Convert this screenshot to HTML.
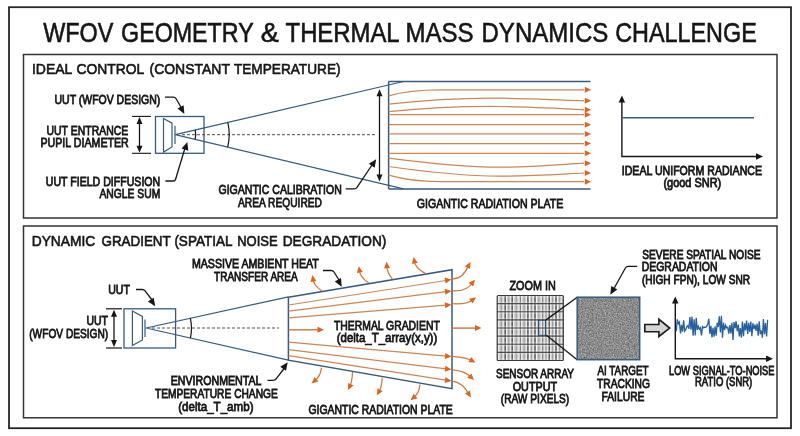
<!DOCTYPE html>
<html><head><meta charset="utf-8"><style>
html,body{margin:0;padding:0;background:#fff;width:800px;height:436px;overflow:hidden}
svg{display:block;will-change:transform}
text{font-family:"Liberation Sans",sans-serif}
</style></head><body>
<svg width="800" height="436" viewBox="0 0 800 436">
<rect width="800" height="436" fill="#fff"/>
<rect x="9" y="7.2" width="782" height="421" fill="none" stroke="#262626" stroke-width="1.8"/>
<rect x="23.5" y="54.5" width="753.5" height="163.5" fill="none" stroke="#333" stroke-width="1.5"/>
<rect x="23.5" y="226" width="753.5" height="191.8" fill="none" stroke="#333" stroke-width="1.5"/>
<text id="t0" x="43.26" y="41.6" font-size="26.74" textLength="70.18" lengthAdjust="spacingAndGlyphs" stroke="#161616" stroke-width="0.6" fill="#161616" >WFOV</text>
<text id="t1" x="121.10" y="41.6" font-size="26.74" textLength="132.60" lengthAdjust="spacingAndGlyphs" stroke="#161616" stroke-width="0.6" fill="#161616" >GEOMETRY</text>
<text id="t2" x="260.65" y="41.6" font-size="26.74" textLength="18.06" lengthAdjust="spacingAndGlyphs" stroke="#161616" stroke-width="0.6" fill="#161616" >&amp;</text>
<text id="t3" x="285.55" y="41.6" font-size="26.74" textLength="114.09" lengthAdjust="spacingAndGlyphs" stroke="#161616" stroke-width="0.6" fill="#161616" >THERMAL</text>
<text id="t4" x="405.51" y="41.6" font-size="26.74" textLength="68.01" lengthAdjust="spacingAndGlyphs" stroke="#161616" stroke-width="0.6" fill="#161616" >MASS</text>
<text id="t5" x="481.53" y="41.6" font-size="26.74" textLength="126.78" lengthAdjust="spacingAndGlyphs" stroke="#161616" stroke-width="0.6" fill="#161616" >DYNAMICS</text>
<text id="t6" x="615.16" y="41.6" font-size="26.74" textLength="141.60" lengthAdjust="spacingAndGlyphs" stroke="#161616" stroke-width="0.6" fill="#161616" >CHALLENGE</text>
<text id="t7" x="31.94" y="73.6" font-size="15.55" textLength="40.31" lengthAdjust="spacingAndGlyphs" stroke="#161616" stroke-width="0.65" fill="#161616" >IDEAL</text>
<text id="t8" x="76.49" y="73.6" font-size="15.55" textLength="67.76" lengthAdjust="spacingAndGlyphs" stroke="#161616" stroke-width="0.65" fill="#161616" >CONTROL</text>
<text id="t9" x="149.50" y="73.6" font-size="15.55" textLength="80.50" lengthAdjust="spacingAndGlyphs" stroke="#161616" stroke-width="0.65" fill="#161616" >(CONSTANT</text>
<text id="t10" x="233.95" y="73.6" font-size="15.55" textLength="106.60" lengthAdjust="spacingAndGlyphs" stroke="#161616" stroke-width="0.65" fill="#161616" >TEMPERATURE)</text>
<text id="t11" x="31.74" y="245.6" font-size="15.55" textLength="63.51" lengthAdjust="spacingAndGlyphs" stroke="#161616" stroke-width="0.65" fill="#161616" >DYNAMIC</text>
<text id="t12" x="101.53" y="245.6" font-size="15.55" textLength="69.12" lengthAdjust="spacingAndGlyphs" stroke="#161616" stroke-width="0.65" fill="#161616" >GRADIENT</text>
<text id="t13" x="174.38" y="245.6" font-size="15.55" textLength="58.03" lengthAdjust="spacingAndGlyphs" stroke="#161616" stroke-width="0.65" fill="#161616" >(SPATIAL</text>
<text id="t14" x="237.22" y="245.6" font-size="15.55" textLength="40.43" lengthAdjust="spacingAndGlyphs" stroke="#161616" stroke-width="0.65" fill="#161616" >NOISE</text>
<text id="t15" x="282.70" y="245.6" font-size="15.55" textLength="103.71" lengthAdjust="spacingAndGlyphs" stroke="#161616" stroke-width="0.65" fill="#161616" >DEGRADATION)</text>
<rect x="155.5" y="116.5" width="48.5" height="36.8" fill="none" stroke="#365b80" stroke-width="1.3"/>
<path d="M163.5,118.5 L172,123.2 L172,146.9 L163.5,152.1 Z" fill="none" stroke="#365b80" stroke-width="1.2" />
<path d="M175.0,125.8 L175.0,144.0" fill="none" stroke="#365b80" stroke-width="1.2" />
<path d="M403.5,81.5 L175.2,134.7 L403.5,188.8" fill="none" stroke="#365b80" stroke-width="1.2" />
<path d="M182.0,134.7 L376.0,134.7" fill="none" stroke="#3a3a3a" stroke-width="0.9" stroke-dasharray="3,2" />
<path d="M195.2,130.0 A20.5,20.5 0 0 1 195.1,139.4" fill="none" stroke="#161616" stroke-width="1.2" />
<path d="M227.8,122.4 A54,54 0 0 1 227.7,147.2" fill="none" stroke="#161616" stroke-width="1.2" />
<path d="M132.0,116.4 L151.0,116.4" fill="none" stroke="#161616" stroke-width="1.1" />
<path d="M132.0,153.3 L151.0,153.3" fill="none" stroke="#161616" stroke-width="1.1" />
<path d="M139.5,123.0 L139.5,147.0" fill="none" stroke="#161616" stroke-width="1.3" />
<path d="M139.5,117.0 L142.5,124.0 L136.5,124.0 Z" fill="#161616" stroke="none"/>
<path d="M139.5,152.7 L136.5,145.7 L142.5,145.7 Z" fill="#161616" stroke="none"/>
<text id="t16" x="54.50" y="103.5" font-size="12.50" textLength="105.76" lengthAdjust="spacingAndGlyphs" stroke="#161616" stroke-width="0.8" fill="#161616" >UUT (WFOV DESIGN)</text>
<path d="M164.9,97.1 L173.4,97.1 Q175.2,97.1 176.1,98.7 L181.5,108.0" fill="none" stroke="#161616" stroke-width="1.3" />
<path d="M184.4,114.0 L177.5,108.6 L183.6,105.3 Z" fill="#161616" stroke="none"/>
<text id="t17" x="46.50" y="135.1" font-size="13.08" textLength="81.76" lengthAdjust="spacingAndGlyphs" stroke="#161616" stroke-width="0.8" fill="#161616" >UUT ENTRANCE</text>
<text id="t18" x="40.50" y="147.0" font-size="13.08" textLength="88.26" lengthAdjust="spacingAndGlyphs" stroke="#161616" stroke-width="0.8" fill="#161616" >PUPIL DIAMETER</text>
<text id="t19" x="45.74" y="186.0" font-size="12.79" textLength="114.52" lengthAdjust="spacingAndGlyphs" stroke="#161616" stroke-width="0.8" fill="#161616" >UUT FIELD DIFFUSION</text>
<text id="t20" x="99.49" y="197.8" font-size="12.79" textLength="60.76" lengthAdjust="spacingAndGlyphs" stroke="#161616" stroke-width="0.8" fill="#161616" >ANGLE SUM</text>
<path d="M165.4,181.0 L173.3,181.0 Q175.1,181.0 175.6,179.3 L185.0,148.0" fill="none" stroke="#161616" stroke-width="1.3" />
<path d="M187.3,142.0 L188.3,150.7 L181.6,148.6 Z" fill="#161616" stroke="none"/>
<path d="M388.6,81.5 L590.5,81.5 M388.6,81.5 L388.6,189 M388.6,189 L590.5,189" fill="none" stroke="#365b80" stroke-width="1.5" />
<path d="M379.5,95.0 L379.5,176.0" fill="none" stroke="#161616" stroke-width="1.3" />
<path d="M379.5,89.2 L382.5,96.2 L376.5,96.2 Z" fill="#161616" stroke="none"/>
<path d="M379.5,181.5 L376.5,174.5 L382.5,174.5 Z" fill="#161616" stroke="none"/>
<text id="t21" x="218.50" y="193.8" font-size="12.79" textLength="123.26" lengthAdjust="spacingAndGlyphs" stroke="#161616" stroke-width="0.8" fill="#161616" >GIGANTIC CALIBRATION</text>
<text id="t22" x="237.99" y="207.0" font-size="12.79" textLength="84.02" lengthAdjust="spacingAndGlyphs" stroke="#161616" stroke-width="0.8" fill="#161616" >AREA REQUIRED</text>
<path d="M345.7,188.8 L354.2,188.8 Q356.0,188.8 357.0,187.3 L372.0,165.0" fill="none" stroke="#161616" stroke-width="1.3" />
<path d="M376.2,159.2 L374.6,167.8 L368.8,163.8 Z" fill="#161616" stroke="none"/>
<text id="t23" x="416.75" y="207.5" font-size="12.79" textLength="146.50" lengthAdjust="spacingAndGlyphs" stroke="#161616" stroke-width="0.8" fill="#161616" >GIGANTIC RADIATION PLATE</text>
<path d="M388.6,95.8 C405,91 420,89.8 440,89.8 L584,89.8" fill="none" stroke="#cc8755" stroke-width="1.25" />
<path d="M388.6,104.2 C430,99.5 470,97.9 500,98.2 C530,98.5 560,99.8 584,100.8" fill="none" stroke="#cc8755" stroke-width="1.25" />
<path d="M388.6,111.6 C430,107.5 470,106.2 500,106.5 C530,106.8 560,108.6 584,109.8" fill="none" stroke="#cc8755" stroke-width="1.25" />
<path d="M388.6,114.7 L584,114.7" fill="none" stroke="#cc8755" stroke-width="1.25" />
<path d="M388.6,124.7 L584,124.7" fill="none" stroke="#cc8755" stroke-width="1.25" />
<path d="M388.6,133.9 L584,133.9" fill="none" stroke="#cc8755" stroke-width="1.25" />
<path d="M388.6,143.6 L584,143.6" fill="none" stroke="#cc8755" stroke-width="1.25" />
<path d="M388.6,153.3 L584,153.3" fill="none" stroke="#cc8755" stroke-width="1.25" />
<path d="M388.6,158.1 C430,163.5 470,167 500,167.2 C530,167.4 560,164.6 584,163.2" fill="none" stroke="#cc8755" stroke-width="1.25" />
<path d="M388.6,166.5 C430,172.5 470,176 500,176.2 C530,176.4 560,174.2 584,173" fill="none" stroke="#cc8755" stroke-width="1.25" />
<path d="M388.6,175.2 C405,180 420,181.7 440,181.7 L584,181.7" fill="none" stroke="#cc8755" stroke-width="1.25" />
<path d="M591.0,89.8 L584.8,92.8 L584.8,86.8 Z" fill="#e0641c" stroke="none"/>
<path d="M591.0,100.8 L584.8,103.8 L584.8,97.8 Z" fill="#e0641c" stroke="none"/>
<path d="M591.0,109.8 L584.8,112.8 L584.8,106.8 Z" fill="#e0641c" stroke="none"/>
<path d="M591.0,114.7 L584.8,117.7 L584.8,111.7 Z" fill="#e0641c" stroke="none"/>
<path d="M591.0,124.7 L584.8,127.7 L584.8,121.7 Z" fill="#e0641c" stroke="none"/>
<path d="M591.0,133.9 L584.8,136.9 L584.8,130.9 Z" fill="#e0641c" stroke="none"/>
<path d="M591.0,143.6 L584.8,146.6 L584.8,140.6 Z" fill="#e0641c" stroke="none"/>
<path d="M591.0,153.3 L584.8,156.3 L584.8,150.3 Z" fill="#e0641c" stroke="none"/>
<path d="M591.0,163.2 L584.8,166.2 L584.8,160.2 Z" fill="#e0641c" stroke="none"/>
<path d="M591.0,173.0 L584.8,176.0 L584.8,170.0 Z" fill="#e0641c" stroke="none"/>
<path d="M591.0,181.7 L584.8,184.7 L584.8,178.7 Z" fill="#e0641c" stroke="none"/>
<path d="M621.9,101.0 L621.9,156.5 L756.0,156.5" fill="none" stroke="#161616" stroke-width="1.4" />
<path d="M621.9,95.5 L625.1,102.5 L618.6,102.5 Z" fill="#161616" stroke="none"/>
<path d="M763.0,156.5 L756.0,159.8 L756.0,153.2 Z" fill="#161616" stroke="none"/>
<path d="M622.5,117.8 L754.0,117.8" fill="none" stroke="#365b80" stroke-width="1.6" />
<text id="t24" x="621.74" y="174.6" font-size="12.50" textLength="140.26" lengthAdjust="spacingAndGlyphs" stroke="#161616" stroke-width="0.8" fill="#161616" >IDEAL UNIFORM RADIANCE</text>
<text id="t25" x="663.46" y="186.8" font-size="12.79" textLength="57.81" lengthAdjust="spacingAndGlyphs" stroke="#161616" stroke-width="0.8" fill="#161616" >(good SNR)</text>
<text id="t26" x="191.99" y="268.0" font-size="12.21" textLength="126.76" lengthAdjust="spacingAndGlyphs" stroke="#161616" stroke-width="0.8" fill="#161616" >MASSIVE AMBIENT HEAT</text>
<text id="t27" x="214.00" y="280.5" font-size="12.21" textLength="83.76" lengthAdjust="spacingAndGlyphs" stroke="#161616" stroke-width="0.8" fill="#161616" >TRANSFER AREA</text>
<path d="M323.0,270.5 L331.2,270.5 Q333.0,270.5 334.0,272.0 L339.0,280.0" fill="none" stroke="#161616" stroke-width="1.3" />
<path d="M341.7,286.8 L334.8,281.4 L341.0,278.1 Z" fill="#161616" stroke="none"/>
<text id="t28" x="108.22" y="294.0" font-size="12.50" textLength="21.78" lengthAdjust="spacingAndGlyphs" stroke="#161616" stroke-width="0.8" fill="#161616" >UUT</text>
<path d="M136.0,289.5 L142.2,289.5 Q144.0,289.5 145.1,290.9 L152.0,300.0" fill="none" stroke="#161616" stroke-width="1.3" />
<path d="M155.2,306.3 L147.9,301.6 L153.7,297.7 Z" fill="#161616" stroke="none"/>
<text id="t29" x="86.49" y="325.2" font-size="12.50" textLength="21.51" lengthAdjust="spacingAndGlyphs" stroke="#161616" stroke-width="0.8" fill="#161616" >UUT</text>
<text id="t30" x="29.24" y="338.0" font-size="12.50" textLength="79.01" lengthAdjust="spacingAndGlyphs" stroke="#161616" stroke-width="0.8" fill="#161616" >(WFOV DESIGN)</text>
<path d="M106.0,308.8 L122.0,308.8" fill="none" stroke="#161616" stroke-width="1.2" />
<path d="M106.0,348.0 L122.0,348.0" fill="none" stroke="#161616" stroke-width="1.2" />
<path d="M114.0,315.0 L114.0,342.0" fill="none" stroke="#161616" stroke-width="1.3" />
<path d="M114.0,309.8 L117.0,316.8 L111.0,316.8 Z" fill="#161616" stroke="none"/>
<path d="M114.0,347.0 L111.0,340.0 L117.0,340.0 Z" fill="#161616" stroke="none"/>
<rect x="124" y="308.8" width="51.6" height="39.2" fill="none" stroke="#365b80" stroke-width="1.3"/>
<path d="M132.4,311 L142.4,316.4 L142.4,340 L132.4,345.6 Z" fill="none" stroke="#365b80" stroke-width="1.2" />
<path d="M145.0,319.6 L145.0,337.0" fill="none" stroke="#365b80" stroke-width="1.2" />
<path d="M288.4,296.8 L146.0,328.0 L288.4,360.2" fill="none" stroke="#365b80" stroke-width="1.2" />
<path d="M152.0,328.0 L279.0,328.0" fill="none" stroke="#3a3a3a" stroke-width="0.9" stroke-dasharray="3,2" />
<path d="M190.4,318.3 A45.5,45.5 0 0 1 190.4,338.0" fill="none" stroke="#161616" stroke-width="1.2" />
<path d="M288.4,297.2 L452,269.7 L452,388.7 L288.4,360.2 Z" fill="none" stroke="#365b80" stroke-width="1.5" />
<path d="M288.6,305.0 L446.0,280.5" fill="none" stroke="#cc8755" stroke-width="1.2" />
<path d="M451.5,279.6 L445.5,283.6 L444.6,277.6 Z" fill="#e0641c" stroke="none"/>
<path d="M288.6,311.1 L446.0,291.6" fill="none" stroke="#cc8755" stroke-width="1.2" />
<path d="M451.5,290.9 L445.4,294.7 L444.7,288.7 Z" fill="#e0641c" stroke="none"/>
<path d="M288.6,317.9 L446.0,305.2" fill="none" stroke="#cc8755" stroke-width="1.2" />
<path d="M451.5,304.7 L445.3,308.2 L444.8,302.2 Z" fill="#e0641c" stroke="none"/>
<path d="M288.6,342.2 L446.0,356.1" fill="none" stroke="#cc8755" stroke-width="1.2" />
<path d="M451.5,356.6 L444.8,359.0 L445.3,353.0 Z" fill="#e0641c" stroke="none"/>
<path d="M288.6,349.6 L446.0,368.9" fill="none" stroke="#cc8755" stroke-width="1.2" />
<path d="M451.5,369.6 L444.7,371.8 L445.4,365.8 Z" fill="#e0641c" stroke="none"/>
<path d="M288.6,355.7 L446.0,380.2" fill="none" stroke="#cc8755" stroke-width="1.2" />
<path d="M451.5,381.1 L444.6,383.1 L445.5,377.1 Z" fill="#e0641c" stroke="none"/>
<path d="M288.6,329.8 L318.0,329.8" fill="none" stroke="#d2773a" stroke-width="1.4" />
<path d="M324.0,329.8 L317.5,332.8 L317.5,326.8 Z" fill="#e0641c" stroke="none"/>
<path d="M452.0,328.1 L475.0,328.1" fill="none" stroke="#d2773a" stroke-width="1.4" />
<path d="M481.5,328.1 L475.0,331.1 L475.0,325.1 Z" fill="#e0641c" stroke="none"/>
<text id="t31" x="334.00" y="329.8" font-size="13.08" textLength="105.75" lengthAdjust="spacingAndGlyphs" stroke="#161616" stroke-width="0.8" fill="#161616" >THERMAL GRADIENT</text>
<text id="t32" x="336.74" y="342.4" font-size="13.52" textLength="100.51" lengthAdjust="spacingAndGlyphs" stroke="#161616" stroke-width="0.8" fill="#161616" >(delta_T_array(x,y))</text>
<path d="M322.0,291.0 Q313.1,285.2 312.9,278.0" fill="none" stroke="#d2773a" stroke-width="1.25" />
<path d="M312.4,275.0 L316.4,280.9 L310.5,281.9 Z" fill="#e0641c" stroke="none"/>
<path d="M368.9,283.1 Q359.5,277.0 359.3,269.2" fill="none" stroke="#d2773a" stroke-width="1.25" />
<path d="M358.8,266.2 L362.8,272.1 L356.9,273.1 Z" fill="#e0641c" stroke="none"/>
<path d="M392.5,279.1 Q386.9,272.9 386.8,264.8" fill="none" stroke="#d2773a" stroke-width="1.25" />
<path d="M386.5,261.8 L390.1,268.0 L384.1,268.6 Z" fill="#e0641c" stroke="none"/>
<path d="M425.6,273.6 Q414.4,267.6 414.2,259.9" fill="none" stroke="#d2773a" stroke-width="1.25" />
<path d="M413.6,257.0 L417.8,262.8 L411.9,264.0 Z" fill="#e0641c" stroke="none"/>
<path d="M321.5,367.6 Q320.5,377.1 313.8,381.5" fill="none" stroke="#d2773a" stroke-width="1.25" />
<path d="M311.5,383.4 L314.6,376.9 L318.4,381.6 Z" fill="#e0641c" stroke="none"/>
<path d="M352.5,372.1 Q352.1,382.9 349.3,387.4" fill="none" stroke="#d2773a" stroke-width="1.25" />
<path d="M348.0,390.1 L348.1,382.9 L353.5,385.5 Z" fill="#e0641c" stroke="none"/>
<path d="M382.2,377.8 Q381.7,388.3 378.3,392.7" fill="none" stroke="#d2773a" stroke-width="1.25" />
<path d="M376.8,395.3 L377.5,388.2 L382.7,391.2 Z" fill="#e0641c" stroke="none"/>
<path d="M420.0,384.5 Q419.1,394.0 412.8,398.3" fill="none" stroke="#d2773a" stroke-width="1.25" />
<path d="M410.6,400.3 L413.5,393.7 L417.5,398.2 Z" fill="#e0641c" stroke="none"/>
<path d="M452.0,278.9 Q462.5,279.9 469.1,264.6" fill="none" stroke="#d2773a" stroke-width="1.25" />
<path d="M470.5,262.0 L470.1,269.1 L464.8,266.3 Z" fill="#e0641c" stroke="none"/>
<path d="M452.0,290.9 Q467.0,291.9 473.1,282.0" fill="none" stroke="#d2773a" stroke-width="1.25" />
<path d="M475.0,279.7 L473.2,286.6 L468.5,282.8 Z" fill="#e0641c" stroke="none"/>
<path d="M452.0,303.7 Q468.1,304.7 473.7,299.1" fill="none" stroke="#d2773a" stroke-width="1.25" />
<path d="M476.1,297.3 L472.6,303.5 L469.1,298.7 Z" fill="#e0641c" stroke="none"/>
<path d="M452.0,356.4 Q467.5,357.4 472.9,361.2" fill="none" stroke="#d2773a" stroke-width="1.25" />
<path d="M475.5,362.6 L468.4,362.2 L471.2,356.9 Z" fill="#e0641c" stroke="none"/>
<path d="M452.0,369.8 Q466.0,370.8 471.8,378.0" fill="none" stroke="#d2773a" stroke-width="1.25" />
<path d="M474.0,380.1 L467.2,377.8 L471.4,373.4 Z" fill="#e0641c" stroke="none"/>
<path d="M452.0,381.1 Q462.9,382.1 469.3,395.0" fill="none" stroke="#d2773a" stroke-width="1.25" />
<path d="M470.9,397.6 L465.0,393.6 L470.1,390.5 Z" fill="#e0641c" stroke="none"/>
<text id="t33" x="170.74" y="384.8" font-size="12.50" textLength="90.78" lengthAdjust="spacingAndGlyphs" stroke="#161616" stroke-width="0.8" fill="#161616" >ENVIRONMENTAL</text>
<text id="t34" x="154.99" y="397.9" font-size="12.50" textLength="122.78" lengthAdjust="spacingAndGlyphs" stroke="#161616" stroke-width="0.8" fill="#161616" >TEMPERATURE CHANGE</text>
<text id="t35" x="178.24" y="411.4" font-size="13.37" textLength="75.26" lengthAdjust="spacingAndGlyphs" stroke="#161616" stroke-width="0.8" fill="#161616" >(delta_T_amb)</text>
<path d="M267.5,380.3 L273.2,380.3 Q275.0,380.3 276.1,378.9 L284.5,368.0" fill="none" stroke="#161616" stroke-width="1.3" />
<path d="M287.7,362.2 L286.0,370.8 L280.2,366.7 Z" fill="#161616" stroke="none"/>
<text id="t36" x="308.49" y="413.8" font-size="12.50" textLength="144.26" lengthAdjust="spacingAndGlyphs" stroke="#161616" stroke-width="0.8" fill="#161616" >GIGANTIC RADIATION PLATE</text>
<defs><linearGradient id="stripe" x1="0" x2="1" y1="0" y2="0"><stop offset="0.000" stop-color="#555"/><stop offset="0.025" stop-color="#eee"/><stop offset="0.050" stop-color="#888"/><stop offset="0.075" stop-color="#ddd"/><stop offset="0.100" stop-color="#666"/><stop offset="0.125" stop-color="#bbb"/><stop offset="0.150" stop-color="#444"/><stop offset="0.175" stop-color="#eee"/><stop offset="0.200" stop-color="#999"/><stop offset="0.225" stop-color="#ccc"/><stop offset="0.250" stop-color="#555"/><stop offset="0.275" stop-color="#eee"/><stop offset="0.300" stop-color="#888"/><stop offset="0.325" stop-color="#ddd"/><stop offset="0.350" stop-color="#666"/><stop offset="0.375" stop-color="#bbb"/><stop offset="0.400" stop-color="#444"/><stop offset="0.425" stop-color="#eee"/><stop offset="0.450" stop-color="#999"/><stop offset="0.475" stop-color="#ccc"/><stop offset="0.500" stop-color="#555"/><stop offset="0.525" stop-color="#eee"/><stop offset="0.550" stop-color="#888"/><stop offset="0.575" stop-color="#ddd"/><stop offset="0.600" stop-color="#666"/><stop offset="0.625" stop-color="#bbb"/><stop offset="0.650" stop-color="#444"/><stop offset="0.675" stop-color="#eee"/><stop offset="0.700" stop-color="#999"/><stop offset="0.725" stop-color="#ccc"/><stop offset="0.750" stop-color="#555"/><stop offset="0.775" stop-color="#eee"/><stop offset="0.800" stop-color="#888"/><stop offset="0.825" stop-color="#ddd"/><stop offset="0.850" stop-color="#666"/><stop offset="0.875" stop-color="#bbb"/><stop offset="0.900" stop-color="#444"/><stop offset="0.925" stop-color="#eee"/><stop offset="0.950" stop-color="#999"/><stop offset="0.975" stop-color="#ccc"/><stop offset="1.000" stop-color="#555"/></linearGradient><filter id="noise" x="0" y="0" width="100%" height="100%" color-interpolation-filters="sRGB"><feTurbulence type="fractalNoise" baseFrequency="0.75" numOctaves="2" seed="3"/><feColorMatrix type="matrix" values="0.55 0 0 0 0.27  0.55 0 0 0 0.27  0.55 0 0 0 0.27  0 0 0 0 1"/></filter></defs>
<rect x="497.2" y="295.5" width="66.1" height="65.0" fill="#b4b4b4"/>
<rect x="498.10" y="295.5" width="1.3" height="65.0" fill="#f2f2f2"/>
<rect x="499.40" y="295.5" width="3.70" height="65.0" fill="#d0d0d0"/>
<rect x="500.65" y="295.5" width="1.2" height="65.0" fill="#9a9a9a"/>
<rect x="503.10" y="295.5" width="1.3" height="65.0" fill="#ececec"/>
<rect x="506.00" y="295.5" width="1.3" height="65.0" fill="#f2f2f2"/>
<rect x="507.30" y="295.5" width="2.80" height="65.0" fill="#d0d0d0"/>
<rect x="508.10" y="295.5" width="1.2" height="65.0" fill="#9a9a9a"/>
<rect x="510.10" y="295.5" width="1.3" height="65.0" fill="#ececec"/>
<rect x="513.00" y="295.5" width="1.3" height="65.0" fill="#f2f2f2"/>
<rect x="514.30" y="295.5" width="4.00" height="65.0" fill="#d0d0d0"/>
<rect x="515.70" y="295.5" width="1.2" height="65.0" fill="#9a9a9a"/>
<rect x="518.30" y="295.5" width="1.3" height="65.0" fill="#ececec"/>
<rect x="521.20" y="295.5" width="1.3" height="65.0" fill="#f2f2f2"/>
<rect x="522.50" y="295.5" width="3.30" height="65.0" fill="#d0d0d0"/>
<rect x="523.55" y="295.5" width="1.2" height="65.0" fill="#9a9a9a"/>
<rect x="525.80" y="295.5" width="1.3" height="65.0" fill="#ececec"/>
<rect x="528.70" y="295.5" width="1.3" height="65.0" fill="#f2f2f2"/>
<rect x="530.00" y="295.5" width="2.90" height="65.0" fill="#d0d0d0"/>
<rect x="530.85" y="295.5" width="1.2" height="65.0" fill="#9a9a9a"/>
<rect x="532.90" y="295.5" width="1.3" height="65.0" fill="#ececec"/>
<rect x="535.80" y="295.5" width="1.3" height="65.0" fill="#f2f2f2"/>
<rect x="537.10" y="295.5" width="3.50" height="65.0" fill="#d0d0d0"/>
<rect x="538.25" y="295.5" width="1.2" height="65.0" fill="#9a9a9a"/>
<rect x="540.60" y="295.5" width="1.3" height="65.0" fill="#ececec"/>
<rect x="543.50" y="295.5" width="1.3" height="65.0" fill="#f2f2f2"/>
<rect x="544.80" y="295.5" width="2.40" height="65.0" fill="#d0d0d0"/>
<rect x="545.40" y="295.5" width="1.2" height="65.0" fill="#9a9a9a"/>
<rect x="547.20" y="295.5" width="1.3" height="65.0" fill="#ececec"/>
<rect x="550.10" y="295.5" width="1.3" height="65.0" fill="#f2f2f2"/>
<rect x="551.40" y="295.5" width="2.50" height="65.0" fill="#d0d0d0"/>
<rect x="552.05" y="295.5" width="1.2" height="65.0" fill="#9a9a9a"/>
<rect x="553.90" y="295.5" width="1.3" height="65.0" fill="#ececec"/>
<rect x="556.80" y="295.5" width="1.3" height="65.0" fill="#f2f2f2"/>
<rect x="558.10" y="295.5" width="3.00" height="65.0" fill="#d0d0d0"/>
<rect x="559.00" y="295.5" width="1.2" height="65.0" fill="#9a9a9a"/>
<rect x="561.10" y="295.5" width="1.3" height="65.0" fill="#ececec"/>
<path d="M505.2,295.5 L505.2,360.5" fill="none" stroke="#4a4a4a" stroke-width="1.2" />
<path d="M512.2,295.5 L512.2,360.5" fill="none" stroke="#4a4a4a" stroke-width="1.2" />
<path d="M520.4,295.5 L520.4,360.5" fill="none" stroke="#7a7a7a" stroke-width="1.0" />
<path d="M527.9,295.5 L527.9,360.5" fill="none" stroke="#4a4a4a" stroke-width="1.2" />
<path d="M535.0,295.5 L535.0,360.5" fill="none" stroke="#4a4a4a" stroke-width="1.2" />
<path d="M542.7,295.5 L542.7,360.5" fill="none" stroke="#7a7a7a" stroke-width="1.0" />
<path d="M549.3,295.5 L549.3,360.5" fill="none" stroke="#4a4a4a" stroke-width="1.2" />
<path d="M556.0,295.5 L556.0,360.5" fill="none" stroke="#4a4a4a" stroke-width="1.2" />
<rect x="497.2" y="296.40" width="66.1" height="1.1" fill="#fff" opacity="0.35"/>
<rect x="497.2" y="301.62" width="66.1" height="1.1" fill="#fff" opacity="0.3"/>
<rect x="497.2" y="304.52" width="66.1" height="1.1" fill="#fff" opacity="0.35"/>
<rect x="497.2" y="309.75" width="66.1" height="1.1" fill="#fff" opacity="0.3"/>
<rect x="497.2" y="312.65" width="66.1" height="1.1" fill="#fff" opacity="0.35"/>
<rect x="497.2" y="317.88" width="66.1" height="1.1" fill="#fff" opacity="0.3"/>
<rect x="497.2" y="320.77" width="66.1" height="1.1" fill="#fff" opacity="0.35"/>
<rect x="497.2" y="326.00" width="66.1" height="1.1" fill="#fff" opacity="0.3"/>
<rect x="497.2" y="328.90" width="66.1" height="1.1" fill="#fff" opacity="0.35"/>
<rect x="497.2" y="334.12" width="66.1" height="1.1" fill="#fff" opacity="0.3"/>
<rect x="497.2" y="337.02" width="66.1" height="1.1" fill="#fff" opacity="0.35"/>
<rect x="497.2" y="342.25" width="66.1" height="1.1" fill="#fff" opacity="0.3"/>
<rect x="497.2" y="345.15" width="66.1" height="1.1" fill="#fff" opacity="0.35"/>
<rect x="497.2" y="350.38" width="66.1" height="1.1" fill="#fff" opacity="0.3"/>
<rect x="497.2" y="353.27" width="66.1" height="1.1" fill="#fff" opacity="0.35"/>
<rect x="497.2" y="358.50" width="66.1" height="1.1" fill="#fff" opacity="0.3"/>
<path d="M497.2,303.6 L563.3,303.6" fill="none" stroke="#4e4e4e" stroke-width="1.1" />
<path d="M497.2,311.8 L563.3,311.8" fill="none" stroke="#4e4e4e" stroke-width="1.1" />
<path d="M497.2,319.9 L563.3,319.9" fill="none" stroke="#4e4e4e" stroke-width="1.1" />
<path d="M497.2,328.0 L563.3,328.0" fill="none" stroke="#4e4e4e" stroke-width="1.1" />
<path d="M497.2,336.1 L563.3,336.1" fill="none" stroke="#4e4e4e" stroke-width="1.1" />
<path d="M497.2,344.2 L563.3,344.2" fill="none" stroke="#4e4e4e" stroke-width="1.1" />
<path d="M497.2,352.4 L563.3,352.4" fill="none" stroke="#4e4e4e" stroke-width="1.1" />
<rect x="497.2" y="295.5" width="66.1" height="65.0" fill="none" stroke="#3a3a3a" stroke-width="1.2" rx="1"/>
<rect x="538.5" y="320.2" width="7" height="15.1" fill="none" stroke="#2c4f70" stroke-width="1.1"/>
<path d="M546.1,319.9 L577.2,297.2" fill="none" stroke="#161616" stroke-width="1.3" />
<path d="M546.1,334.9 L577.2,359.7" fill="none" stroke="#161616" stroke-width="1.3" />
<text id="t37" x="509.48" y="289.5" font-size="13.08" textLength="46.30" lengthAdjust="spacingAndGlyphs" stroke="#161616" stroke-width="0.8" fill="#161616" >ZOOM IN</text>
<text id="t38" x="496.00" y="377.6" font-size="12.50" textLength="78.01" lengthAdjust="spacingAndGlyphs" stroke="#161616" stroke-width="0.8" fill="#161616" >SENSOR ARRAY</text>
<text id="t39" x="512.75" y="391.0" font-size="12.50" textLength="44.25" lengthAdjust="spacingAndGlyphs" stroke="#161616" stroke-width="0.8" fill="#161616" >OUTPUT</text>
<text id="t40" x="500.75" y="403.4" font-size="12.79" textLength="68.50" lengthAdjust="spacingAndGlyphs" stroke="#161616" stroke-width="0.8" fill="#161616" >(RAW PIXELS)</text>
<rect x="577.2" y="297.2" width="62.5" height="62.5" fill="#8a8a8a"/>
<rect x="577.2" y="297.2" width="62.5" height="62.5" filter="url(#noise)"/>
<rect x="577.2" y="297.2" width="62.5" height="62.5" fill="none" stroke="#365b80" stroke-width="1.5"/>
<text id="t41" x="597.47" y="375.0" font-size="12.50" textLength="51.05" lengthAdjust="spacingAndGlyphs" stroke="#161616" stroke-width="0.8" fill="#161616" >AI TARGET</text>
<text id="t42" x="597.00" y="387.5" font-size="12.50" textLength="53.01" lengthAdjust="spacingAndGlyphs" stroke="#161616" stroke-width="0.8" fill="#161616" >TRACKING</text>
<text id="t43" x="601.49" y="400.8" font-size="12.50" textLength="43.03" lengthAdjust="spacingAndGlyphs" stroke="#161616" stroke-width="0.8" fill="#161616" >FAILURE</text>
<text id="t44" x="642.24" y="259.0" font-size="12.21" textLength="118.27" lengthAdjust="spacingAndGlyphs" stroke="#161616" stroke-width="0.8" fill="#161616" >SEVERE SPATIAL NOISE</text>
<text id="t45" x="641.74" y="271.4" font-size="12.21" textLength="75.77" lengthAdjust="spacingAndGlyphs" stroke="#161616" stroke-width="0.8" fill="#161616" >DEGRADATION</text>
<text id="t46" x="642.00" y="284.4" font-size="12.21" textLength="108.01" lengthAdjust="spacingAndGlyphs" stroke="#161616" stroke-width="0.8" fill="#161616" >(HIGH FPN), LOW SNR</text>
<path d="M637.2,266.4 L628.1,266.4 Q626.3,266.4 625.4,268.0 L614.0,288.5" fill="none" stroke="#161616" stroke-width="1.3" />
<path d="M610.3,294.8 L611.2,286.1 L617.3,289.5 Z" fill="#161616" stroke="none"/>
<path d="M644.8,324.5 L658.9,324.5 L658.9,319.3 L669.7,328.1 L658.9,336.5 L658.9,331.7 L644.8,331.7 Z" fill="#d4d4d4" stroke="#1a1a1a" stroke-width="1.6" />
<path d="M675.3,302.0 L675.3,358.7 L766.0,358.7" fill="none" stroke="#161616" stroke-width="1.4" />
<path d="M675.3,296.5 L678.5,303.5 L672.0,303.5 Z" fill="#161616" stroke="none"/>
<path d="M773.0,358.7 L766.0,361.9 L766.0,355.4 Z" fill="#161616" stroke="none"/>
<path d="M676.3,331.3 L677.3,319.4 L678.4,323.7 L679.4,322.2 L680.5,333.5 L681.5,324.9 L682.6,331.6 L683.6,320.3 L684.7,331.2 L685.7,329.7 L686.8,326.6 L687.8,325.6 L688.9,328.8 L689.9,317.0 L691.0,329.8 L692.0,316.6 L693.1,335.7 L694.1,319.2 L695.2,335.5 L696.2,317.7 L697.3,329.9 L698.3,326.4 L699.4,329.2 L700.4,327.8 L701.5,335.4 L702.5,326.6 L703.6,327.9 L704.6,327.2 L705.7,327.3 L706.7,326.3 L707.8,323.7 L708.8,318.8 L709.9,334.0 L710.9,325.9 L712.0,337.5 L713.0,327.8 L714.1,336.7 L715.1,326.3 L716.2,335.8 L717.2,322.9 L718.3,326.7 L719.3,316.4 L720.4,332.5 L721.4,315.7 L722.5,337.7 L723.5,322.7 L724.6,330.0 L725.6,325.4 L726.7,327.8 L727.7,327.2 L728.8,333.7 L729.8,325.1 L730.9,333.5 L731.9,322.8 L733.0,339.9 L734.0,322.0 L735.1,328.1 L736.1,321.2 L737.2,331.2 L738.2,324.5 L739.3,336.5 L740.3,328.0 L741.4,337.7 L742.4,321.5 L743.5,336.1 L744.5,323.4 L745.6,330.5 L746.6,320.6 L747.7,333.9 L748.7,322.8 L749.8,331.9 L750.8,321.5 L751.9,336.1 L752.9,323.2 L754.0,329.1 L755.0,324.6 L756.1,330.9 L757.1,323.5 L758.2,335.6 L759.2,321.3 L760.3,334.2 L761.3,330.5 L762.4,337.7 L763.4,319.1 L764.5,334.2 L765.5,323.0 L766.6,336.5 L767.6,319.8" fill="none" stroke="#2560a0" stroke-width="1.3" />
<text id="t47" x="668.99" y="374.5" font-size="12.21" textLength="105.52" lengthAdjust="spacingAndGlyphs" stroke="#161616" stroke-width="0.8" fill="#161616" >LOW SIGNAL-TO-NOISE</text>
<text id="t48" x="694.98" y="386.4" font-size="12.21" textLength="57.27" lengthAdjust="spacingAndGlyphs" stroke="#161616" stroke-width="0.8" fill="#161616" >RATIO (SNR)</text>
</svg></body></html>
